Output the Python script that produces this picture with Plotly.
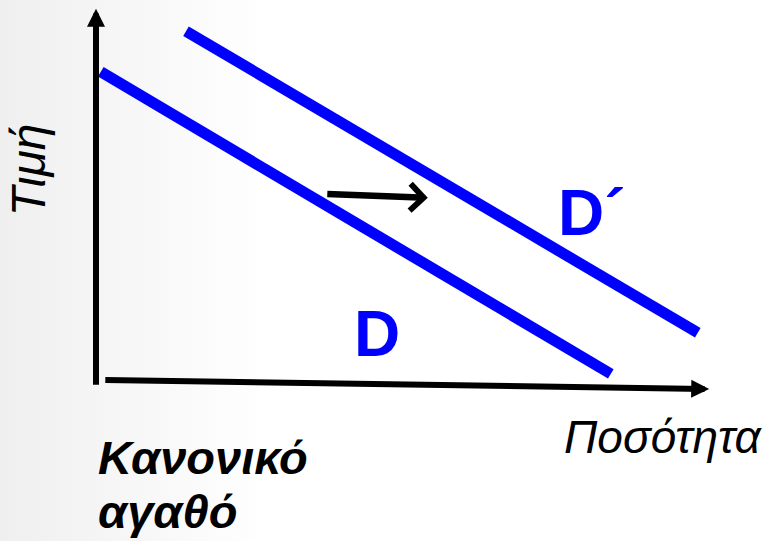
import plotly.graph_objects as go

# demand curves, quantity (x) vs price (y)
d_qty = [0.08, 8.58]
d_price = [8.56, 0.17]
d_shift_qty = [1.50, 10.03]
d_shift_price = [9.69, 1.31]

# shift arrow (tail -> tip)
shift_tail = (3.83, 5.17)
shift_tip = (5.53, 5.06)

curve_labels = ['D', 'D´']
label_pos = [(4.68, 1.28), (8.27, 4.63)]

x_title = 'Ποσότητα'
y_title = 'Τιμή'
good_type = ['Κανονικό', 'αγαθό']

x_range = [-1.6, 11.2167]
y_range = [-4.472, 10.556]

blue = '#0000ff'
font_family = 'Arial, Liberation Sans, sans-serif'

fig = go.Figure()

# faint grey shade on the left, like the slide background
fig.add_trace(go.Scatter(
    x=[x_range[0], x_range[1], x_range[1], x_range[0], x_range[0]],
    y=[y_range[0], y_range[0], y_range[1], y_range[1], y_range[0]],
    mode='none',
    fill='toself',
    fillgradient=dict(type='horizontal',
                      colorscale=[[0, '#efefef'], [0.35, '#ffffff'], [1, '#ffffff']]),
    hoverinfo='skip',
))

fig.add_trace(go.Scatter(x=d_qty, y=d_price, mode='lines',
                         line=dict(color=blue, width=11), hoverinfo='skip'))
fig.add_trace(go.Scatter(x=d_shift_qty, y=d_shift_price, mode='lines',
                         line=dict(color=blue, width=11), hoverinfo='skip'))

# axes drawn as arrows
axis_arrows = [
    ((0, 10.31), (0, -0.17)),       # price axis
    ((10.22, -0.25), (0.13, 0)),    # quantity axis
]
for tip, tail in axis_arrows:
    fig.add_annotation(x=tip[0], y=tip[1], ax=tail[0], ay=tail[1],
                       xref='x', yref='y', axref='x', ayref='y',
                       text='', showarrow=True, arrowhead=2,
                       arrowwidth=6, arrowsize=0.6, arrowcolor='black',
                       standoff=0, startstandoff=0)

fig.add_annotation(x=shift_tip[0], y=shift_tip[1], ax=shift_tail[0], ay=shift_tail[1],
                   xref='x', yref='y', axref='x', ayref='y',
                   text='', showarrow=True, arrowhead=4,
                   arrowwidth=6.5, arrowsize=0.8, arrowcolor='black',
                   standoff=0, startstandoff=0)

for txt, (qx, py) in zip(curve_labels, label_pos):
    fig.add_annotation(x=qx, y=py, text=f'<b>{txt}</b>', showarrow=False,
                       font=dict(family=font_family, size=64, color=blue))

fig.add_annotation(x=9.46, y=-1.57, text=f'<i>{x_title}</i>', showarrow=False,
                   font=dict(family=font_family, size=46, color='black'))
fig.add_annotation(x=-1.12, y=5.85, text=f'<i>{y_title}</i>', showarrow=False,
                   textangle=-90,
                   font=dict(family=font_family, size=48, color='black'))

for txt, py in zip(good_type, [-2.15, -3.66]):
    fig.add_annotation(x=0.0, y=py, text=f'<b><i>{txt}</i></b>', showarrow=False,
                       xanchor='left',
                       font=dict(family=font_family, size=47, color='black'))

fig.update_layout(
    width=769, height=541,
    margin=dict(l=0, r=0, t=0, b=0),
    paper_bgcolor='white', plot_bgcolor='white',
    showlegend=False,
    xaxis=dict(range=x_range, visible=False, fixedrange=True),
    yaxis=dict(range=y_range, visible=False, fixedrange=True),
)

# drop the default 8px page margin so the figure sits at the window corner
fig.write_html('out.html', config={'displayModeBar': False},
               post_script="document.body.style.margin='0px';")
